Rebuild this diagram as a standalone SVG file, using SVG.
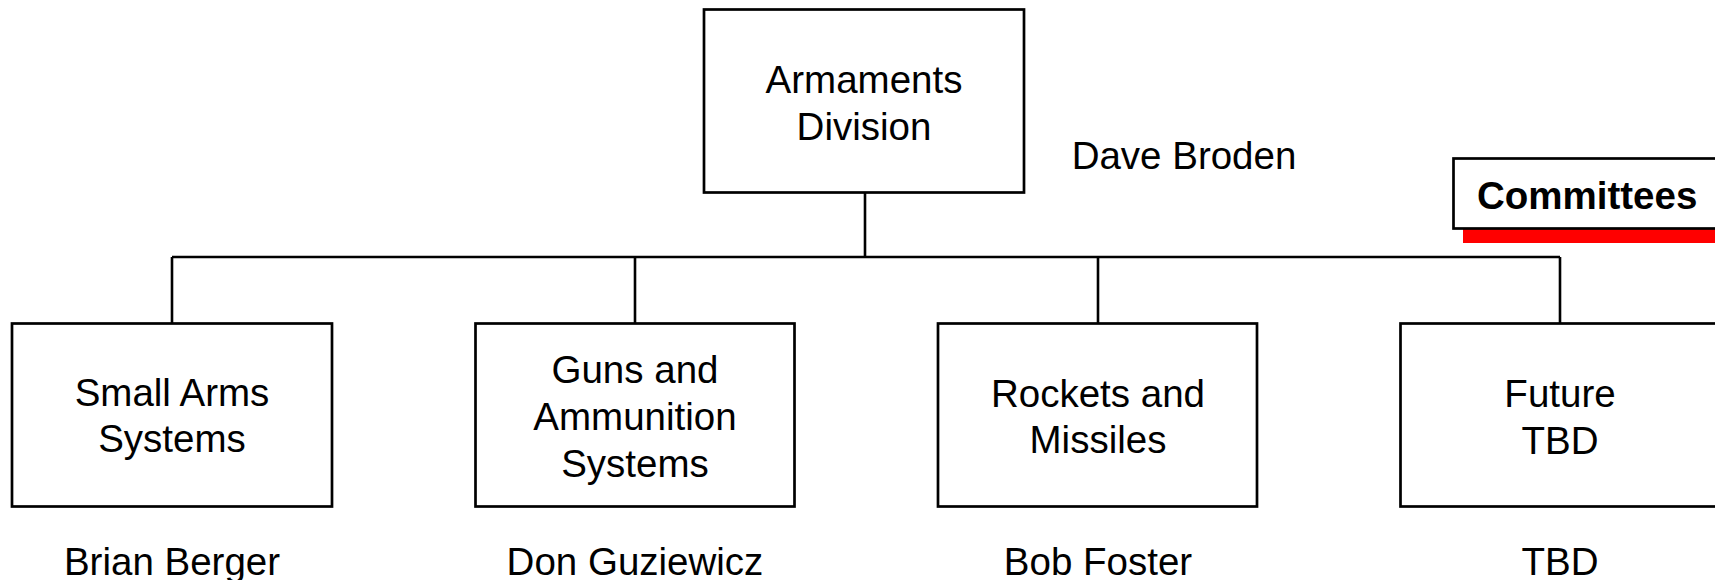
<svg xmlns="http://www.w3.org/2000/svg" width="1715" height="580" viewBox="0 0 1715 580">
<style>
.box{fill:#fff;stroke:#000;stroke-width:2.7}
.t{font-family:"Liberation Sans",Arial,sans-serif;font-size:38.5px;fill:#000;text-anchor:middle}
.b{font-family:"Liberation Sans",Arial,sans-serif;font-size:38.5px;font-weight:bold;fill:#000}
.ln{fill:none;stroke:#000;stroke-width:2.6}
</style>
<rect width="1715" height="580" fill="#fff"/>
<g id="connectors">
<path class="ln" d="M865 192V257M172 257H1560M172 257V323M635 257V323M1098 257V323M1560 257V323"/>
</g>
<g id="armaments">
<rect class="box" x="704" y="9.5" width="320" height="183"/>
<text class="t" x="864" y="93">Armaments</text>
<text class="t" x="864" y="140">Division</text>
</g>
<g id="dave">
<text class="t" x="1184" y="169">Dave Broden</text>
</g>
<g id="committees">
<rect x="1463" y="229" width="260" height="14" fill="#ff0000"/>
<rect class="box" x="1453.5" y="158.5" width="270" height="70"/>
<text class="b" x="1477" y="209">Committees</text>
</g>
<g id="small-arms">
<rect class="box" x="12" y="323.5" width="320" height="183"/>
<text class="t" x="172" y="406">Small Arms</text>
<text class="t" x="172" y="452">Systems</text>
<text class="t" x="172" y="575">Brian Berger</text>
</g>
<g id="guns">
<rect class="box" x="475.5" y="323.5" width="319" height="183"/>
<text class="t" x="635" y="383">Guns and</text>
<text class="t" x="635" y="430">Ammunition</text>
<text class="t" x="635" y="477">Systems</text>
<text class="t" x="635" y="575">Don Guziewicz</text>
</g>
<g id="rockets">
<rect class="box" x="938" y="323.5" width="319" height="183"/>
<text class="t" x="1098" y="406.5">Rockets and</text>
<text class="t" x="1098" y="453">Missiles</text>
<text class="t" x="1098" y="575">Bob Foster</text>
</g>
<g id="future">
<rect class="box" x="1400.5" y="323.5" width="320" height="183"/>
<text class="t" x="1560" y="407">Future</text>
<text class="t" x="1560" y="454">TBD</text>
<text class="t" x="1560" y="575">TBD</text>
</g>
</svg>
